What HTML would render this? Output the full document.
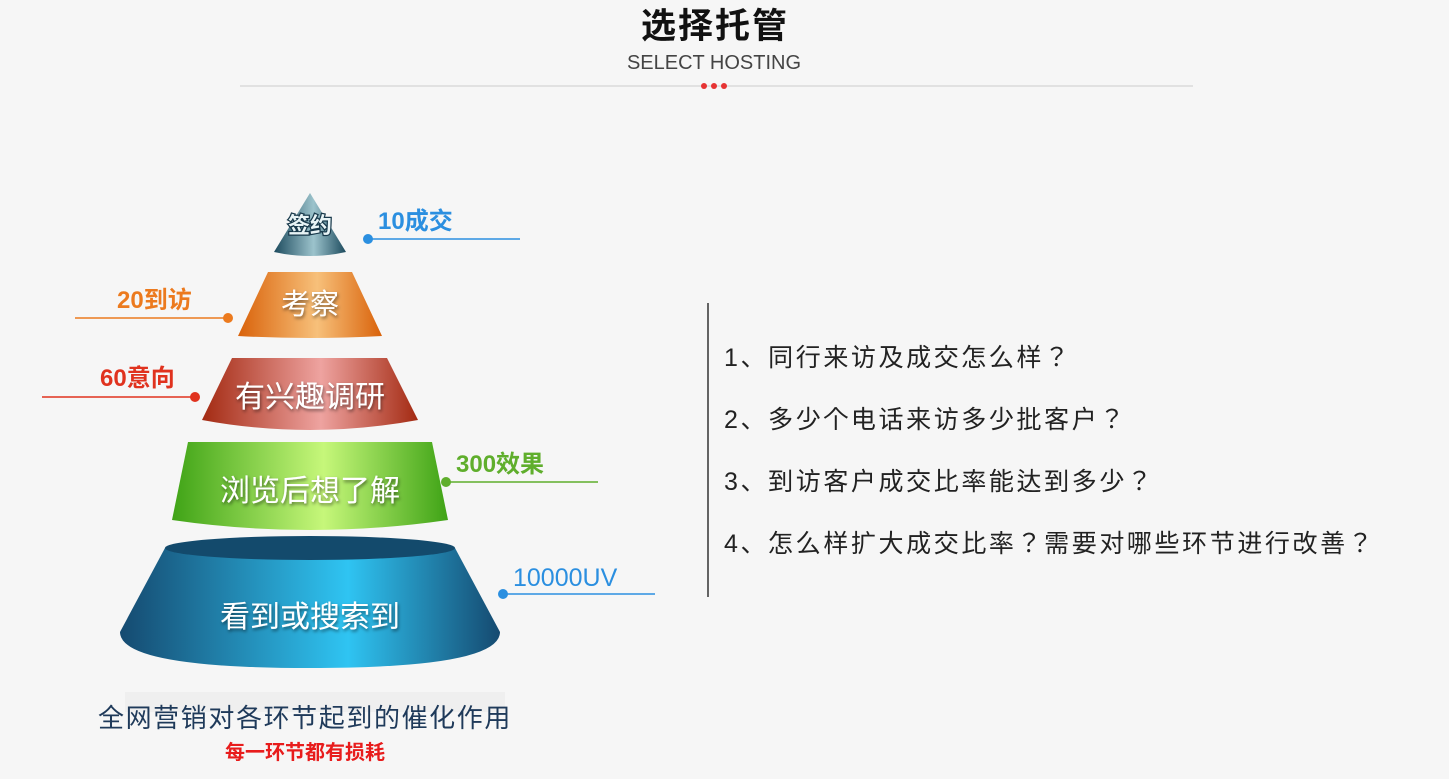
<!DOCTYPE html>
<html><head><meta charset="utf-8"><style>
body{margin:0;background:#f6f6f6;}
svg{display:block}
text{font-family:"Liberation Sans","Noto Sans CJK SC",sans-serif}
.cjk{font-family:"Noto Sans CJK JP","Noto Sans CJK SC",sans-serif}
</style></head><body>
<svg width="1449" height="779" viewBox="0 0 1449 779">
<defs>
<linearGradient id="gt" x1="0" x2="1"><stop offset="0" stop-color="#1d4b5e"/><stop offset=".55" stop-color="#9cc3cc"/><stop offset="1" stop-color="#1d4b5e"/></linearGradient>
<linearGradient id="go" x1="0" x2="1"><stop offset="0" stop-color="#d9620a"/><stop offset=".55" stop-color="#f7c07a"/><stop offset="1" stop-color="#d9620a"/></linearGradient>
<linearGradient id="gr" x1="0" x2="1"><stop offset="0" stop-color="#a32a12"/><stop offset=".55" stop-color="#eea3a0"/><stop offset="1" stop-color="#a32a12"/></linearGradient>
<linearGradient id="gg" x1="0" x2="1"><stop offset="0" stop-color="#3fa316"/><stop offset=".55" stop-color="#c6f77a"/><stop offset="1" stop-color="#3fa316"/></linearGradient>
<linearGradient id="gb" x1="0" x2="1"><stop offset="0" stop-color="#154a70"/><stop offset=".6" stop-color="#2fc4f2"/><stop offset="1" stop-color="#154a70"/></linearGradient>
<filter id="sh"><feDropShadow dx="1" dy="2" stdDeviation="1.5" flood-color="#000" flood-opacity=".5"/></filter>
</defs>
<text x="715" y="38" text-anchor="middle" font-size="35" font-weight="bold" fill="#111" letter-spacing="2">选择托管</text>
<text x="714" y="69" text-anchor="middle" font-size="20" fill="#444">SELECT HOSTING</text>
<line x1="240" y1="86" x2="1193" y2="86" stroke="#ccc" stroke-width="1"/>
<circle cx="704" cy="86" r="3" fill="#e63333"/><circle cx="714" cy="86" r="3" fill="#e63333"/><circle cx="724" cy="86" r="3" fill="#e63333"/>

<path d="M310 193 L346 252 Q310 260 274 252 Z" fill="url(#gt)"/>
<path d="M268 272 L352 272 L382 336 Q310 340 238 336 Z" fill="url(#go)"/>
<path d="M232 358 L387 358 L418 420 Q310 440 202 420 Z" fill="url(#gr)"/>
<path d="M188 442 L432 442 L448 520 Q310 540 172 520 Z" fill="url(#gg)"/>
<path d="M165 548 L455 548 L500 632 Q500 668 310 668 Q120 668 120 632 Z" fill="url(#gb)"/>
<ellipse cx="310" cy="548" rx="145" ry="12" fill="#134a6c"/>

<text x="310" y="233" text-anchor="middle" font-size="22" font-weight="bold" fill="#e8f4f6" stroke="#17384a" stroke-width="2.5" paint-order="stroke">签约</text>
<g fill="#fff" filter="url(#sh)" text-anchor="middle">
<text x="310" y="314" font-size="29">考察</text>
<text x="310" y="407" font-size="30">有兴趣调研</text>
<text x="310" y="501" font-size="30">浏览后想了解</text>
<text x="310" y="627" font-size="30">看到或搜索到</text>
</g>

<g font-size="24" font-weight="bold">
<text x="378" y="229" fill="#2b8fe0">10成交</text>
<line x1="368" y1="239" x2="520" y2="239" stroke="#2b8fe0" stroke-width="1.5"/><circle cx="368" cy="239" r="5" fill="#2b8fe0"/>
<text x="117" y="308" fill="#ec7a1e">20到访</text>
<line x1="75" y1="318" x2="228" y2="318" stroke="#ec7a1e" stroke-width="1.5"/><circle cx="228" cy="318" r="5" fill="#ec7a1e"/>
<text x="100" y="386" fill="#e0321e">60意向</text>
<line x1="42" y1="397" x2="195" y2="397" stroke="#e0321e" stroke-width="1.5"/><circle cx="195" cy="397" r="5" fill="#e0321e"/>
<text x="456" y="472" fill="#5fae2c">300效果</text>
<line x1="446" y1="482" x2="598" y2="482" stroke="#5fae2c" stroke-width="1.5"/><circle cx="446" cy="482" r="5" fill="#5fae2c"/>
<text x="513" y="586" fill="#2b8fe0" font-weight="normal" font-size="25">10000UV</text>
<line x1="503" y1="594" x2="655" y2="594" stroke="#2b8fe0" stroke-width="1.5"/><circle cx="503" cy="594" r="5" fill="#2b8fe0"/>
</g>

<line x1="708" y1="303" x2="708" y2="597" stroke="#333" stroke-width="1.5"/>
<g font-size="25" fill="#222" letter-spacing="2.6">
<text x="724" y="366">1<tspan class="cjk">、同行来访及成交怎么样？</tspan></text>
<text x="724" y="428">2<tspan class="cjk">、多少个电话来访多少批客户？</tspan></text>
<text x="724" y="490">3<tspan class="cjk">、到访客户成交比率能达到多少？</tspan></text>
<text x="724" y="552">4<tspan class="cjk">、怎么样扩大成交比率？需要对哪些环节进行改善？</tspan></text>
</g>

<rect x="125" y="692" width="380" height="20" fill="#efefef"/>
<text x="305" y="727" text-anchor="middle" font-size="26" letter-spacing="1.6" fill="#1f3a5a">全网营销对各环节起到的催化作用</text>
<text x="305" y="759" text-anchor="middle" font-size="20" font-weight="bold" fill="#e81c1c">每一环节都有损耗</text>
</svg>
</body></html>
